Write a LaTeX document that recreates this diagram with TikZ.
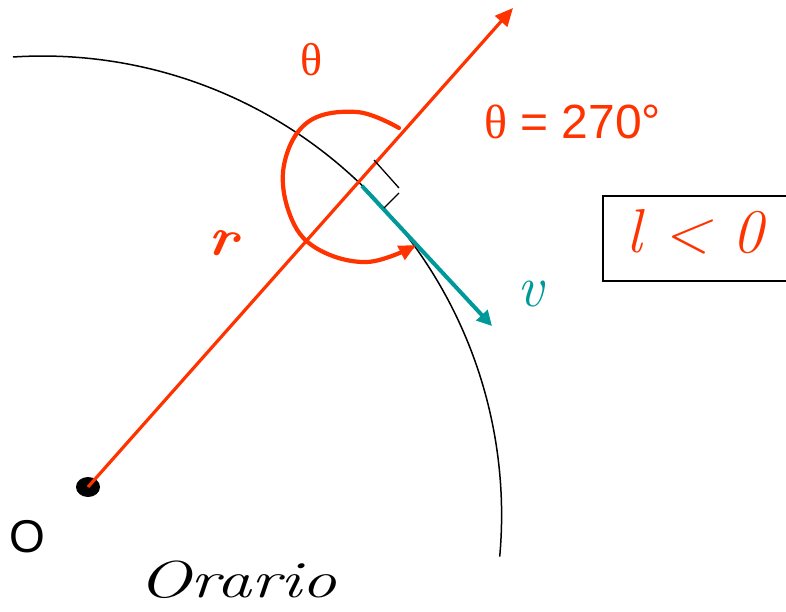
\documentclass[tikz,border=0pt]{standalone}
\usepackage{fontspec}
\usetikzlibrary{arrows.meta,shapes.geometric}
\newfontfamily\grk{Liberation Serif}
\newfontfamily\arl{Liberation Sans}
\definecolor{myred}{HTML}{FF3300}
\definecolor{myteal}{HTML}{009999}
\tikzset{
  redline/.style={draw=myred, line width=3.2pt},
  loopline/.style={draw=myred, line width=4.2pt, line cap=round},
  tealline/.style={draw=myteal, line width=4pt},
  arcline/.style={draw=black, line width=1.5pt},
  marker/.style={draw=black, line width=1.3pt},
  lbl/.style={inner sep=0pt, anchor=center},
}
\begin{document}
\begin{tikzpicture}[x=1pt,y=-1pt]
\useasboundingbox (0,0) rectangle (786,612);
% circle arc
\draw[arcline] (13,57) arc[start angle=-93.7, end angle=5.2, radius=459];
% origin
\node[fill=black, ellipse, minimum width=24pt, minimum height=20pt, inner sep=0pt] (o) at (88,487) {};
\coordinate (rtip) at (513,8);
\draw[redline, -{Triangle[length=18pt,width=16pt]}] (o.center) -- (rtip);
% tangent vector
\coordinate (vs) at (362,186);
\coordinate (vt) at (492,326);
\draw[tealline, -{Triangle[length=15pt,width=15pt]}] (vs) -- (vt);
% right angle marks
\coordinate (m1) at (374,160);
\coordinate (m2) at (399,188);
\coordinate (m3) at (399,193);
\coordinate (m4) at (384,208);
\draw[marker] (m1) -- (m2);
\draw[marker] (m3) -- (m4);
% angle loop
\draw[loopline, -{Triangle[length=17pt,width=15pt]}] plot[smooth, tension=0.65] coordinates {(399,128) (357,112) (308,122) (284,165) (290,215) (316,248) (367,262) (416,245)};
% labels
\node[lbl, text=myred, font=\grk\fontsize{46}{46}\selectfont] (th) at (312,60) {θ};
\node[lbl, text=myred, font=\arl\fontsize{48}{48}\selectfont, anchor=west] (th2) at (484,122) {{\grk θ} = 270°};
\node[lbl, text=myred, font=\fontsize{56}{56}\selectfont\itshape\bfseries, rotate=-10] (r) at (222,244) {r};
\node[lbl, text=myteal, font=\fontsize{58}{58}\selectfont\itshape] (v) at (531,294) {v};
\node[lbl, font=\arl\fontsize{46}{46}\selectfont] (O) at (27,537) {O};
\node[lbl, font=\fontsize{52}{52}\selectfont\itshape, xscale=1.35, anchor=west] (orario) at (138,580) {Orario};
% box
\draw[line width=1.4pt] (786,196) -- (603,196) -- (603,281) -- (786,281);
\node[lbl, text=myred, font=\fontsize{62}{62}\selectfont\itshape, anchor=west] (ineq) at (626,232) {l < 0};
\end{tikzpicture}
\end{document}
